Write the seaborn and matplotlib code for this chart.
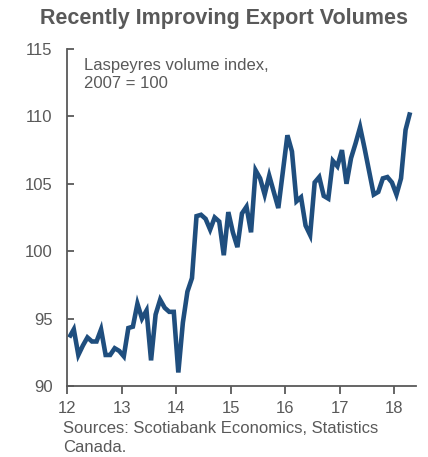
import numpy as np
import pandas as pd
import matplotlib
matplotlib.use("Agg")
import matplotlib.pyplot as plt
import seaborn as sns

# Monthly Laspeyres export volume index (2007 = 100), Jan 2012 - Apr 2018
years = [2012, 2013, 2014, 2015, 2016, 2017, 2018]
vol_2012 = [93.6, 94.2, 92.3, 93.0, 93.6, 93.3, 93.3, 94.2, 92.3, 92.3, 92.8, 92.6]
vol_2013 = [92.2, 94.3, 94.4, 96.1, 95.0, 95.6, 91.9, 95.3, 96.4, 95.8, 95.5, 95.5]
vol_2014 = [91.0, 94.7, 97.0, 98.0, 102.6, 102.7, 102.4, 101.6, 102.5, 102.2, 99.7, 102.9]
vol_2015 = [101.4, 100.3, 102.8, 103.3, 101.4, 106.0, 105.4, 104.2, 105.6, 104.4, 103.2, 105.9]
vol_2016 = [108.6, 107.4, 103.7, 104.0, 101.9, 101.2, 105.1, 105.5, 104.1, 103.9, 106.7, 106.3]
vol_2017 = [107.5, 105.0, 106.9, 108.0, 109.2, 107.6, 105.9, 104.2, 104.4, 105.4, 105.5, 105.1]
vol_2018 = [104.2, 105.4, 109.0, 110.3]

x_ticks = [2012, 2013, 2014, 2015, 2016, 2017, 2018]
x_tick_labels = ["12", "13", "14", "15", "16", "17", "18"]
y_ticks = [90, 95, 100, 105, 110, 115]

title = "Recently Improving Export Volumes"
note = "Laspeyres volume index,\n2007 = 100"
source = "Sources: Scotiabank Economics, Statistics\nCanada."

series = [vol_2012, vol_2013, vol_2014, vol_2015, vol_2016, vol_2017, vol_2018]
rows = []
for yr, vals in zip(years, series):
    for m, v in enumerate(vals):
        rows.append({"date": yr + (m + 0.5) / 12.0, "index": v})
df = pd.DataFrame(rows)

sns.set_style("white")
plt.rcParams["font.family"] = ["Liberation Sans", "DejaVu Sans"]

grey = "#595959"
line_color = "#1F4E7E"

fig = plt.figure(figsize=(4.28, 4.57), dpi=100)
ax = fig.add_axes([0.1565, 0.1554, 0.972 - 0.1565, 0.8928 - 0.1554])

sns.lineplot(data=df, x="date", y="index", ax=ax, color=line_color,
             linewidth=3.3, solid_joinstyle="miter", solid_capstyle="butt")

ax.set_xlim(2012, 2018.4)
ax.set_ylim(90, 115)
ax.set_xticks(x_ticks)
ax.set_xticklabels(x_tick_labels)
ax.set_yticks(y_ticks)
ax.set_xlabel("")
ax.set_ylabel("")

for side in ["top", "right"]:
    ax.spines[side].set_visible(False)
for side in ["left", "bottom"]:
    ax.spines[side].set_color(grey)
    ax.spines[side].set_linewidth(1.3)

ax.tick_params(axis="x", direction="out", length=6, width=1.3, color=grey,
               labelcolor=grey, labelsize=12, pad=5, bottom=True)
ax.tick_params(axis="y", direction="in", length=5, width=1.3, color=grey,
               labelcolor=grey, labelsize=12, pad=10.5, left=True)

ax.text(0.05, 0.972, note, transform=ax.transAxes, ha="left", va="top",
        fontsize=12, color=grey, linespacing=1.25)

fig.text(0.524, 0.96, title, ha="center", va="center", fontsize=15.5,
         fontweight="bold", color=grey)
fig.text(0.147, 0.042, source, ha="left", va="center", fontsize=12,
         color=grey, linespacing=1.3)

fig.savefig("out.png", dpi=100)
